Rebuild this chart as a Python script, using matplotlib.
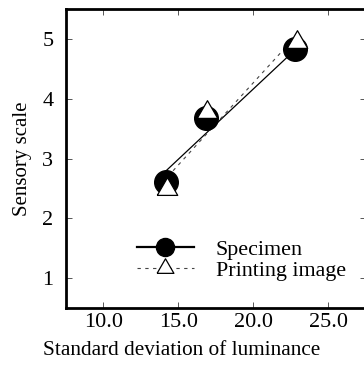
import matplotlib
matplotlib.use("Agg")
import matplotlib.pyplot as plt

plt.rcParams['font.family'] = ['Liberation Serif', 'DejaVu Serif']

# measured points
spec_x = [14.2, 16.85, 22.8]
spec_y = [2.61, 3.68, 4.83]
print_x = [14.25, 16.88, 22.88]
print_y = [2.49, 3.78, 4.95]

# fitted lines (end points)
spec_fit_x = [14.2, 22.7]
spec_fit_y = [2.80, 4.80]
print_fit_x = [14.3, 22.8]
print_fit_y = [2.70, 5.04]

xticks = [10.0, 15.0, 20.0, 25.0]
xticklabels = ['10.0', '15.0', '20.0', '25.0']
yticks = [1, 2, 3, 4, 5]

tri = [(-1.0, -0.577), (1.0, -0.577), (0.0, 1.155), (-1.0, -0.577)]

fig = plt.figure(figsize=(3.64, 3.67), dpi=100)
ax = fig.add_axes([0.181, 0.161, 0.824, 0.814])

ax.plot(spec_fit_x, spec_fit_y, color='black', lw=0.9, zorder=2)
ax.plot(print_fit_x, print_fit_y, color='#444444', lw=0.8, dashes=(3, 4), zorder=2)
ax.plot(spec_x, spec_y, ls='none', marker='o', ms=17, color='black', zorder=3)
ax.plot(print_x, print_y, ls='none', marker=tri, ms=17, mfc='white', mec='black',
        mew=0.9, zorder=4)

# legend handles
h1, = ax.plot([], [], color='black', lw=1.6, marker='o', ms=13)
h2, = ax.plot([], [], color='#444444', lw=0.8, dashes=(3, 4), marker=tri, ms=14,
              mfc='white', mec='black', mew=0.9)
ax.legend([h1, h2], ['Specimen', 'Printing image'], loc='lower left',
          bbox_to_anchor=(0.2, 0.053), frameon=False, fontsize=15.8,
          handlelength=2.6, handletextpad=1.0, labelspacing=0.05, borderpad=0)

ax.set_xlim(7.5, 27.5)
ax.set_ylim(0.5, 5.5)
ax.set_xticks(xticks)
ax.set_xticklabels(xticklabels)
ax.set_yticks(yticks)
ax.tick_params(direction='in', length=4.5, width=0.7, labelsize=16,
               top=True, right=True, color='#555555')
ax.tick_params(axis='x', pad=4)
ax.tick_params(axis='y', pad=9)
for s in ax.spines.values():
    s.set_linewidth(2.0)

ax.set_xlabel('Standard deviation of luminance', fontsize=15.3)
ax.xaxis.set_label_coords(0.385, -0.11)
ax.set_ylabel('Sensory scale', fontsize=15)
ax.yaxis.set_label_coords(-0.112, 0.5)

fig.savefig('out.png', dpi=100)
